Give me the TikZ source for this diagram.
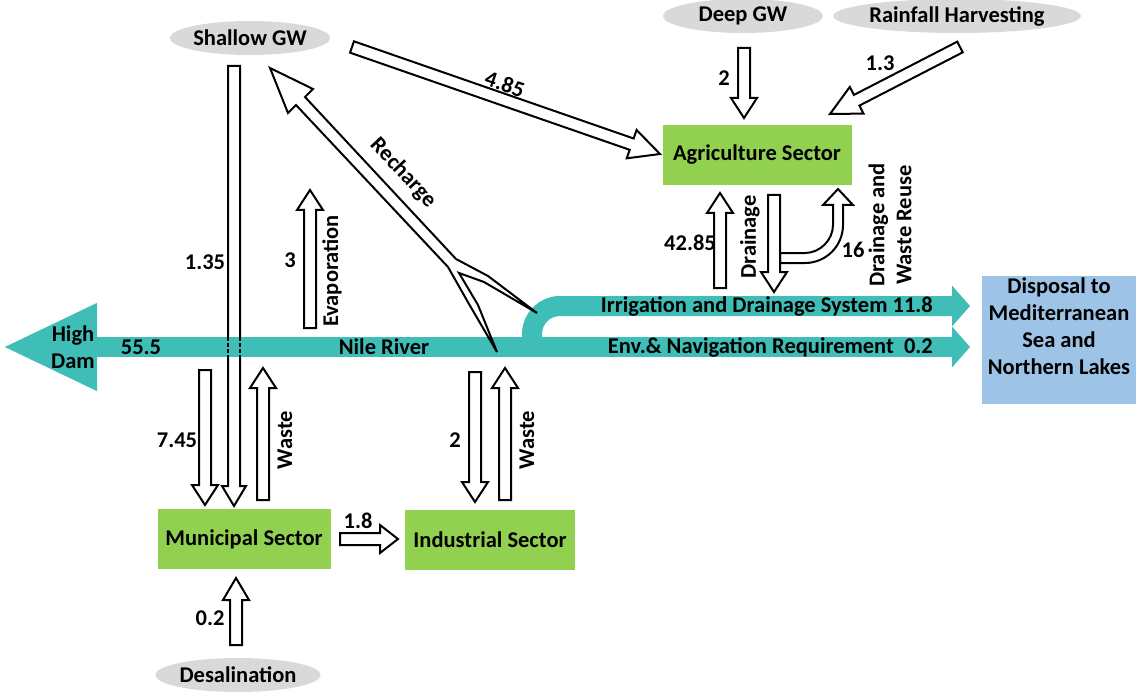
\documentclass[tikz,border=0pt]{standalone}
\usepackage{fontspec}
\setmainfont{Carlito}
\usepackage{tikz}
\usetikzlibrary{arrows.meta,positioning,calc,shapes.geometric}
\definecolor{srcgray}{HTML}{D9D9D9}
\definecolor{secgreen}{HTML}{92D050}
\definecolor{disblue}{HTML}{9DC3E6}
\definecolor{nileteal}{HTML}{3FBEB8}

% block arrow: from, to, half shaft, half head, head length
\newcommand{\flowarrow}[5]{%
  \coordinate (fa-b) at ($(#2)!#5!(#1)$);
  \draw[blk] ($(#1)!#3!90:(#2)$) -- ($(fa-b)!#3!90:(#2)$) -- ($(fa-b)!#4!90:(#2)$) -- (#2)
    -- ($(fa-b)!#4!-90:(#2)$) -- ($(fa-b)!#3!-90:(#2)$) -- ($(#1)!#3!-90:(#2)$) -- cycle;}

\begin{document}
\begin{tikzpicture}[x=1pt,y=-1pt,
  font=\fontsize{22.5}{27}\selectfont\bfseries,
  src/.style={ellipse, fill=srcgray, minimum width=160pt, minimum height=34pt, inner sep=0pt},
  sector/.style={fill=secgreen, minimum height=60pt, inner sep=2pt},
  lbl/.style={inner sep=1pt},
  blk/.style={draw, fill=white, line width=2pt, line join=miter},
  river/.style={draw=nileteal, line width=20pt}]
\useasboundingbox (0,0) rectangle (1136,698);
% ----- sources and sectors
\node[src] (sgw) at (250,38) {Shallow GW};
\node[src] (dgw) at (743,16) {Deep GW};
\node[src, minimum width=220pt] (rain) at (957,16) {Rainfall Harvesting};
\node[src] (desal) at (238,675) {Desalination};
\node[sector, minimum width=189pt] (agr) at (757,155) {Agriculture Sector};
\node[sector, minimum width=173pt] (mun) at (244,539) {Municipal Sector};
\node[sector, minimum width=170pt] (ind) at (490,540) {Industrial Sector};
\node[fill=disblue, minimum width=154pt, minimum height=128pt] (dis) at (1059,340) {};
\node[lbl, align=center] (distxt) at ($(dis.center)+(0,-14)$) {Disposal to\\Mediterranean\\Sea and\\Northern Lakes};
% ----- shallow GW to municipal (under the river)
\coordinate (a135s) at (234,66); \coordinate (a135e) at (234,506);
\flowarrow{a135s}{a135e}{6pt}{12pt}{20pt}
% ----- Nile and branch
\coordinate (damtip) at (3,347); \coordinate (nileend) at (970,347);
\coordinate (irrs) at (532,347); \coordinate (irrc) at (532,306); \coordinate (irrend) at (970,306);
\draw[river, {Triangle[length=94pt,width=82pt]}-{Triangle[length=18pt,width=40pt]}] (damtip) -- (nileend);
\draw[river, -{Triangle[length=18pt,width=40pt]}, rounded corners=28pt] (irrs) -- (irrc) -- (irrend);
\foreach \dx in {-6,6}
  \draw[line width=1.2pt, dash pattern=on 4pt off 2pt] ($(a135s)+(\dx,271)$) -- ++(0,20);
\node[lbl, align=center] (dam) at (73,347) {High\\Dam};
\node[lbl] (l555) at (141,347) {55.5};
\node[lbl] (nile) at (384,347) {Nile River};
\node[lbl, anchor=east] (env) at (934,347) {Env.\& Navigation Requirement\ \ 0.2};
\node[lbl, anchor=east] (irr) at (934,306) {Irrigation and Drainage System 11.8};
% ----- recharge back to shallow GW
\draw[blk] (270,68) -- (313,89) -- (305,97) -- (456,259) -- (488,276) -- (537,313) -- (484,282)
  -- (459,273) -- (478,305) -- (497,352) -- (469,304) -- (448,267) -- (296,105) -- (288,113) -- cycle;
\node[lbl, rotate=-47] (lrech) at (403,173) {Recharge};
% ----- agriculture flows
\coordinate (a485s) at (352,47); \coordinate (a485e) at (660,154);
\flowarrow{a485s}{a485e}{6pt}{15pt}{30pt}
\coordinate (a13s) at (960,47); \coordinate (a13e) at (830,114);
\flowarrow{a13s}{a13e}{6pt}{15pt}{30pt}
\coordinate (a2s) at (744,48); \coordinate (a2e) at (744,118);
\flowarrow{a2s}{a2e}{6pt}{13pt}{20pt}
\coordinate (a4285s) at (720,288); \coordinate (a4285e) at (720,193);
\flowarrow{a4285s}{a4285e}{6pt}{13pt}{20pt}
\draw[blk] (780,263) -- (805,263) .. controls (826,263) and (843,246) .. (843,225) -- (843,205) -- (853,205)
  -- (838,189) -- (823,205) -- (833,205) -- (833,225) .. controls (833,240) and (820,253) .. (805,253) -- (780,253) -- cycle;
\coordinate (adrs) at (774,195); \coordinate (adre) at (774,292);
\flowarrow{adrs}{adre}{6pt}{13pt}{20pt}
\node[lbl] (l485) [rotate=-19] at (505,84) {4.85};
\node[lbl] (l13) at (880,63) {1.3};
\node[lbl] (l2a) at (724,78) {2};
\node[lbl] (l4285) at (690,243) {42.85};
\node[lbl, rotate=90] (ldr) at (750,237) {Drainage};
\node[lbl] (l16) at (853,250) {16};
\node[lbl, rotate=90, align=center] (ldwr) at (890,225) {Drainage and\\Waste Reuse};
% ----- evaporation
\coordinate (aevs) at (310,328); \coordinate (aeve) at (310,190);
\flowarrow{aevs}{aeve}{6pt}{13pt}{20pt}
\node[lbl] (l3) at (290,260) {3};
\node[lbl, rotate=90] (levap) at (332,271) {Evaporation};
\node[lbl] (l135) at (205,262) {1.35};
% ----- municipal and industrial
\coordinate (a745s) at (205,370); \coordinate (a745e) at (205,505);
\flowarrow{a745s}{a745e}{6pt}{13pt}{20pt}
\coordinate (awms) at (263,500); \coordinate (awme) at (263,368);
\flowarrow{awms}{awme}{6pt}{13pt}{20pt}
\coordinate (ai2s) at (475,372); \coordinate (ai2e) at (475,502);
\flowarrow{ai2s}{ai2e}{6pt}{13pt}{20pt}
\coordinate (awis) at (505,500); \coordinate (awie) at (505,368);
\flowarrow{awis}{awie}{6pt}{13pt}{20pt}
\coordinate (a18s) at (340,539); \coordinate (a18e) at (398,539);
\flowarrow{a18s}{a18e}{6pt}{14pt}{18pt}
\coordinate (ads) at (236,645); \coordinate (ade) at (236,578);
\flowarrow{ads}{ade}{6pt}{13pt}{22pt}
\node[lbl] (l745) at (177,440) {7.45};
\node[lbl, rotate=90] (lwm) at (285,440) {Waste};
\node[lbl] (l2i) at (455,440) {2};
\node[lbl, rotate=90] (lwi) at (527,440) {Waste};
\node[lbl] (l18) at (358,521) {1.8};
\node[lbl] (l02) at (210,618) {0.2};
\end{tikzpicture}
\end{document}
